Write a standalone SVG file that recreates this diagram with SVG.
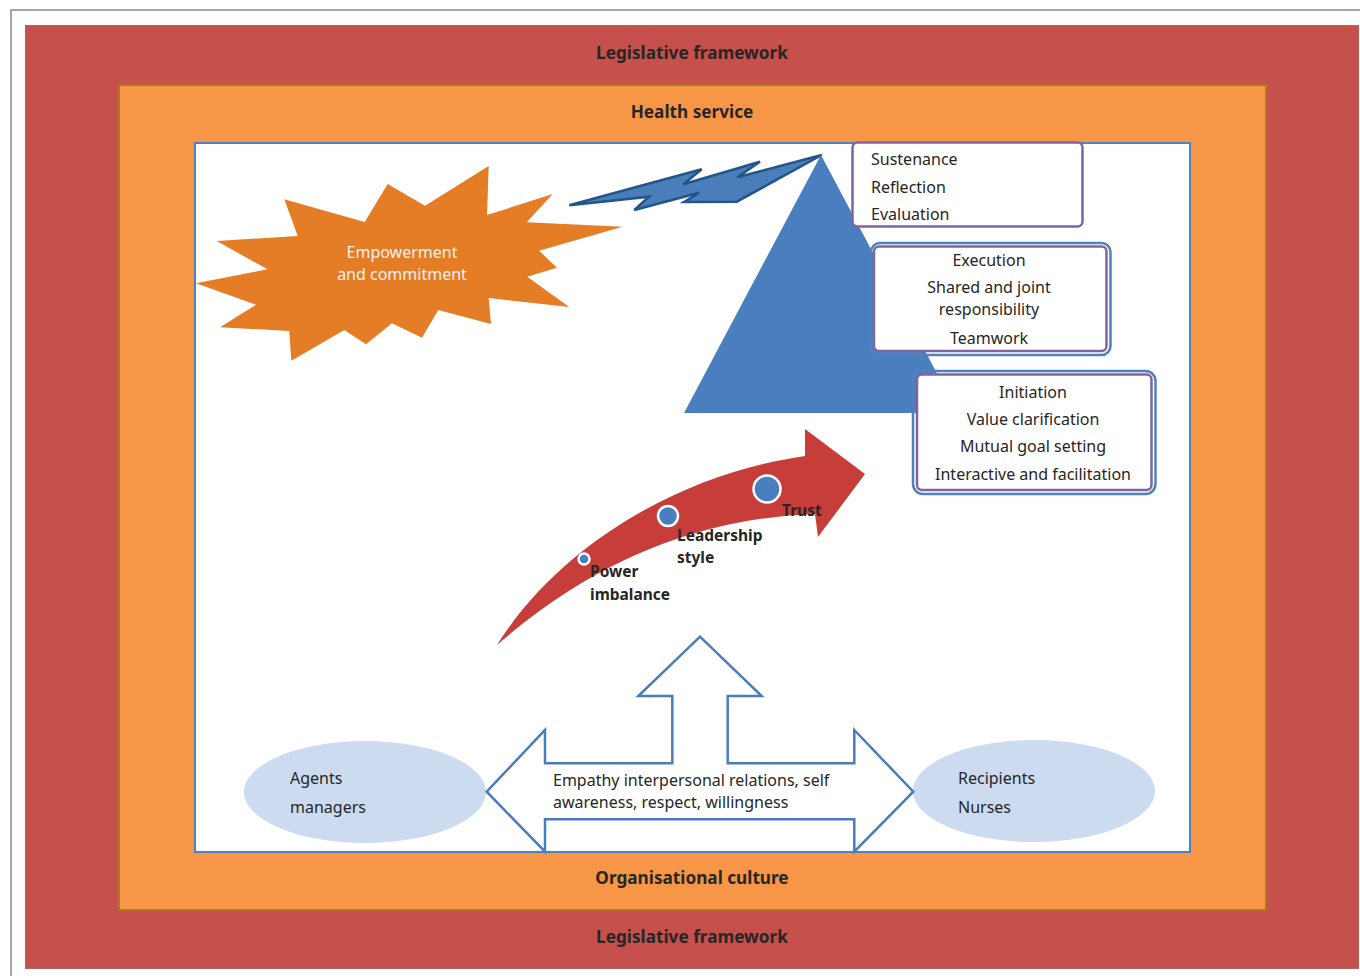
<svg xmlns="http://www.w3.org/2000/svg" width="1360" height="976" viewBox="0 0 1360 976">
<defs>
<style>
.hdr{font-family:"Noto Sans","Liberation Sans",sans-serif;font-weight:bold;font-size:17.2px;fill:#262626;text-anchor:middle}
.t{font-family:"Noto Sans","Liberation Sans",sans-serif;font-size:16px;fill:#262626}
.c{text-anchor:middle}
.b{font-family:"Noto Sans","Liberation Sans",sans-serif;font-weight:bold;font-size:15.5px;fill:#262626}
.purple{fill:#fff;stroke:#8064A2;stroke-width:2.5}
.blueo{fill:none;stroke:#4F81BD;stroke-width:2.5}
.ell{fill:#CCDBF0}
.dot{fill:#4A7FBF;stroke:#fff;stroke-width:2.5}
</style>
</defs>
<rect x="0" y="0" width="1360" height="976" fill="#fff"/>
<rect x="11" y="10" width="1360" height="980" fill="none" stroke="#888" stroke-width="1.5"/>
<g id="legislative">
<rect x="25.5" y="25.5" width="1333" height="943" fill="#C5504C" stroke="#B2625F" stroke-width="1"/>
<text class="hdr" x="692" y="59">Legislative framework</text>
<text class="hdr" x="692" y="943">Legislative framework</text>
</g>
<g id="health-service">
<rect x="119" y="85" width="1147" height="825" fill="#F69646" stroke="#B8702E" stroke-width="2"/>
<text class="hdr" x="692" y="118">Health service</text>
<text class="hdr" x="692" y="884">Organisational culture</text>
</g>
<g id="inner">
<rect x="195" y="143" width="995" height="709" fill="#fff" stroke="#4F81BD" stroke-width="2"/>
</g>
<g id="empowerment">
<polygon fill="#E47D26" points="284.3,199.3 364.7,222 387.7,184 425,205.7 488.7,166 487,215 552.7,194 526.7,222.3 622.7,226.7 539,250.7 557,267.7 527.3,276.7 569.3,307 488.7,298 491,324 438.3,310 422,337.7 392,323.3 366,344.3 344.3,330 291.3,360.7 289.3,331 220,327.3 256,304.7 196,283.3 267.3,269.3 216.7,241 297.7,236"/>
<text class="t c" x="402" y="258" style="fill:#F2F2F2">Empowerment</text>
<text class="t c" x="402" y="280" style="fill:#F2F2F2">and commitment</text>
</g>
<g id="connectors">
<polygon fill="#4A7EBB" stroke="#24548A" stroke-width="2.5" stroke-linejoin="miter" points="569.3,205.3 701.7,169.3 683.3,184.3 760,161.7 737.3,177.3 821.7,155 736.7,201.7 684,202 699.3,192.7 634.3,210 649,196.7"/>
</g>
<g id="pyramid">
<polygon fill="#4A7FBF" points="684,413 821,155 958,413"/>
</g>
<g id="sustenance">
<rect class="purple" x="852.5" y="142.5" width="230" height="84" rx="5"/>
<text class="t" x="871" y="165">Sustenance</text>
<text class="t" x="871" y="193">Reflection</text>
<text class="t" x="871" y="220">Evaluation</text>
</g>
<g id="execution">
<rect class="blueo" x="871" y="243" width="239.5" height="112" rx="9"/>
<rect class="purple" x="874" y="246.5" width="232.5" height="104.5" rx="5"/>
<text class="t c" x="989" y="266">Execution</text>
<text class="t c" x="989" y="293">Shared and joint</text>
<text class="t c" x="989" y="315">responsibility</text>
<text class="t c" x="989" y="344">Teamwork</text>
</g>
<g id="initiation">
<rect class="blueo" x="913" y="371" width="242.5" height="123" rx="10"/>
<rect class="purple" x="917" y="374.5" width="234.5" height="115.5" rx="5"/>
<text class="t c" x="1033" y="398">Initiation</text>
<text class="t c" x="1033" y="425">Value clarification</text>
<text class="t c" x="1033" y="452">Mutual goal setting</text>
<text class="t c" x="1033" y="480">Interactive and facilitation</text>
</g>
<g id="progress-arrow">
<path fill="#C63D3A" d="M497,645 C560,545 680,474 805,456 L805,429 L865,474 L818,537 L815,514 Q640,520 497,645 Z"/>
<circle class="dot" cx="584" cy="559" r="5.5"/>
<circle class="dot" cx="668" cy="516" r="10"/>
<circle class="dot" cx="767" cy="489" r="13.5"/>
<text class="b" x="590" y="577">Power</text>
<text class="b" x="590" y="600">imbalance</text>
<text class="b" x="677" y="541">Leadership</text>
<text class="b" x="677" y="563">style</text>
<text class="b" x="782" y="516">Trust</text>
</g>
<g id="agents">
<ellipse class="ell" cx="365" cy="792" rx="121" ry="51"/>
<text class="t" x="290" y="784">Agents</text>
<text class="t" x="290" y="813">managers</text>
</g>
<g id="recipients">
<ellipse class="ell" cx="1034" cy="791" rx="121" ry="51"/>
<text class="t" x="958" y="784">Recipients</text>
<text class="t" x="958" y="813">Nurses</text>
</g>
<g id="relations">
<polygon fill="#fff" stroke="#4A7EBB" stroke-width="2.5" points="486.7,791.7 545,730 545,763.3 672.3,763.3 672.3,696 638.3,696 700,636.7 761.7,696 727.7,696 727.7,763.3 854.3,763.3 854.3,730 913.3,791.7 854.3,851.7 854.3,819.3 545,819.3 545,851.7"/>
<text class="t" x="553" y="786">Empathy interpersonal relations, self</text>
<text class="t" x="553" y="808">awareness, respect, willingness</text>
</g>
</svg>
